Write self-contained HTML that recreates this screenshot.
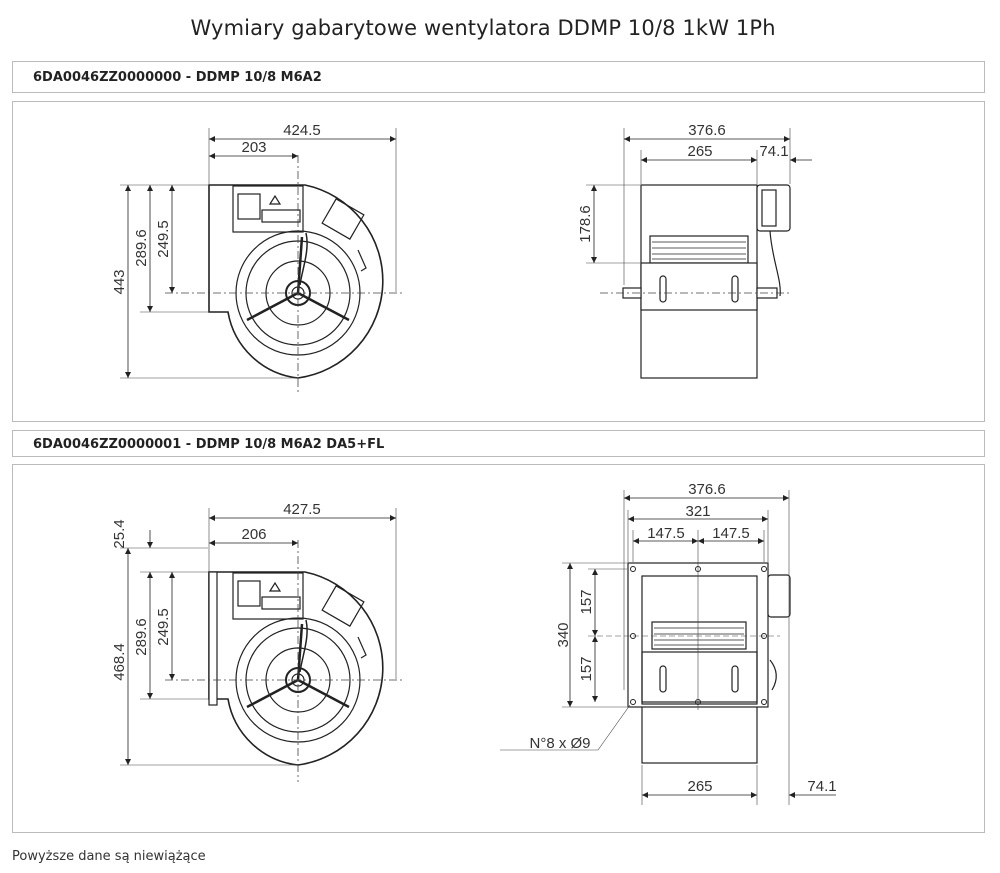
<!DOCTYPE html>
<html><head><meta charset="utf-8"><style>
body{margin:0;background:#fff;width:1000px;height:873px;overflow:hidden;font-family:"Liberation Sans",sans-serif}
svg{position:absolute;left:0;top:0}
</style></head><body>
<svg width="1000" height="873" viewBox="0 0 1000 873" font-family="Liberation Sans, sans-serif">
<defs>
<marker id="a" viewBox="0 0 10 10" refX="10" refY="5" markerWidth="10" markerHeight="6" orient="auto-start-reverse" markerUnits="userSpaceOnUse"><path d="M0,0L10,5L0,10z" fill="#222"/></marker>
</defs>
<text x="483" y="35" font-size="21" text-anchor="middle" fill="#222" font-family="DejaVu Sans, sans-serif" textLength="585">Wymiary gabarytowe wentylatora DDMP 10/8 1kW 1Ph</text>
<g fill="none" stroke="#bbb"><rect x="12.5" y="61.5" width="972" height="31"/><rect x="12.5" y="101.5" width="972" height="320"/><rect x="12.5" y="430.5" width="972" height="26"/><rect x="12.5" y="464.5" width="972" height="368"/></g>
<text x="33" y="81" font-size="13" font-weight="bold" fill="#222" font-family="DejaVu Sans, sans-serif">6DA0046ZZ0000000 -  DDMP 10/8 M6A2</text>
<text x="33" y="448" font-size="13" font-weight="bold" fill="#222" font-family="DejaVu Sans, sans-serif">6DA0046ZZ0000001 - DDMP 10/8 M6A2 DA5+FL</text>
<text x="12" y="860" font-size="13" fill="#333" font-family="DejaVu Sans, sans-serif">Powyższe dane są niewiążące</text>

<g id="lv" stroke="#222" fill="none" stroke-width="1.2">
<path d="M209,185 H305 A98,98 0 0 1 298,378 A80,80 0 0 1 228,312 H209 Z" fill="#fff" stroke-width="1.6"/>
<rect x="233" y="186" width="70" height="46" fill="#fff"/>
<rect x="238" y="194" width="22" height="25"/><rect x="262" y="210" width="38" height="12"/>
<path d="M270,204 l5,-8 l5,8z"/>
<circle cx="298" cy="293" r="62"/><circle cx="298" cy="293" r="52"/><circle cx="298" cy="293" r="32"/>
<circle cx="298" cy="293" r="12" stroke-width="2"/><circle cx="298" cy="293" r="6"/>
<path d="M298,293 L247,320 M298,293 L349,320 M298,293 L302,237" stroke-width="2.5"/>
<path d="M306,233 C310,250 302,270 300,285" stroke-width="1.5"/>
<rect x="327" y="205" width="32" height="28" transform="rotate(30 343 219)"/>
<path d="M358,250 l8,18 l-5,3" />
</g>
<g stroke="#444" stroke-width="0.8" stroke-dasharray="8,3,2,3" fill="none"><line x1="165" y1="293" x2="402" y2="293"/><line x1="298" y1="155" x2="298" y2="395"/></g>
<g stroke="#444" stroke-width="0.6"><line x1="209" y1="128" x2="209" y2="184"/><line x1="396" y1="128" x2="396" y2="292"/><line x1="120" y1="185" x2="208" y2="185"/><line x1="140" y1="312" x2="208" y2="312"/><line x1="120" y1="378" x2="298" y2="378"/></g>
<g stroke="#222" stroke-width="0.8" marker-start="url(#a)" marker-end="url(#a)"><line x1="209" y1="139" x2="396" y2="139"/><line x1="209" y1="156" x2="298" y2="156"/><line x1="128" y1="185" x2="128" y2="378"/><line x1="150" y1="185" x2="150" y2="312"/><line x1="172" y1="185" x2="172" y2="293"/></g>
<g font-size="15" fill="#333" text-anchor="middle"><text x="302" y="135">424.5</text><text x="254" y="152">203</text>
<text transform="translate(124,282) rotate(-90)">443</text><text transform="translate(146,248) rotate(-90)">289.6</text><text transform="translate(168,239) rotate(-90)">249.5</text></g>

<g stroke="#222" fill="#fff" stroke-width="1.2">
<rect x="641" y="185" width="116" height="193"/>
<rect x="650" y="236" width="98" height="27" fill="none"/>
<path d="M652,242H746M652,248H746M652,254H746M652,259H746" fill="none" stroke-width="0.8"/>
<rect x="641" y="263" width="116" height="47"/>
<rect x="660" y="276" width="6" height="26" rx="3"/><rect x="732" y="276" width="6" height="26" rx="3"/>
<rect x="623" y="288" width="18" height="10"/><rect x="757" y="288" width="20" height="10"/>
<rect x="757" y="185" width="33" height="46" rx="3"/><rect x="762" y="190" width="14" height="36"/>
<path d="M770,231 C772,260 782,280 780,296" fill="none"/>
</g>
<line x1="600" y1="293" x2="790" y2="293" stroke="#444" stroke-width="0.8" stroke-dasharray="8,3,2,3"/>
<g stroke="#444" stroke-width="0.6"><line x1="624" y1="128" x2="624" y2="285"/><line x1="790" y1="128" x2="790" y2="184"/><line x1="641" y1="150" x2="641" y2="184"/><line x1="757" y1="150" x2="757" y2="184"/><line x1="586" y1="185" x2="640" y2="185"/><line x1="586" y1="263" x2="640" y2="263"/></g>
<g stroke="#222" stroke-width="0.8" marker-start="url(#a)" marker-end="url(#a)"><line x1="624" y1="139" x2="790" y2="139"/><line x1="641" y1="160" x2="757" y2="160"/><line x1="594" y1="185" x2="594" y2="263"/></g>
<g stroke="#222" stroke-width="0.8"><line x1="812" y1="160" x2="790" y2="160" marker-end="url(#a)"/></g>
<g font-size="15" fill="#333" text-anchor="middle"><text x="707" y="135">376.6</text><text x="700" y="156">265</text><text x="774" y="156">74.1</text><text transform="translate(590,224) rotate(-90)">178.6</text></g>

<use href="#lv" transform="translate(0,387)"/>
<rect x="209" y="572" width="8" height="133" fill="#fff" stroke="#222" stroke-width="1.2"/>
<g stroke="#444" stroke-width="0.8" stroke-dasharray="8,3,2,3" fill="none"><line x1="165" y1="680" x2="402" y2="680"/><line x1="298" y1="540" x2="298" y2="782"/></g>
<g stroke="#444" stroke-width="0.6"><line x1="209" y1="508" x2="209" y2="571"/><line x1="396" y1="508" x2="396" y2="679"/><line x1="120" y1="548" x2="208" y2="548"/><line x1="140" y1="572" x2="208" y2="572"/><line x1="140" y1="699" x2="208" y2="699"/><line x1="120" y1="765" x2="298" y2="765"/></g>
<g stroke="#222" stroke-width="0.8" marker-start="url(#a)" marker-end="url(#a)"><line x1="209" y1="518" x2="396" y2="518"/><line x1="209" y1="543" x2="298" y2="543"/><line x1="128" y1="548" x2="128" y2="765"/><line x1="150" y1="572" x2="150" y2="699"/><line x1="172" y1="572" x2="172" y2="680"/></g>
<g stroke="#222" stroke-width="0.8"><line x1="150" y1="530" x2="150" y2="548" marker-end="url(#a)"/></g>
<g font-size="15" fill="#333" text-anchor="middle"><text x="302" y="514">427.5</text><text x="254" y="539">206</text>
<text transform="translate(124,534) rotate(-90)">25.4</text><text transform="translate(124,662) rotate(-90)">468.4</text><text transform="translate(146,637) rotate(-90)">289.6</text><text transform="translate(168,627) rotate(-90)">249.5</text></g>

<g stroke="#222" fill="#fff" stroke-width="1.2">
<rect x="642" y="700" width="115" height="63"/>
<rect x="628" y="563" width="140" height="144"/>
<rect x="642" y="576" width="115" height="128" fill="none"/>
<rect x="652" y="622" width="94" height="27" fill="none"/>
<path d="M654,628H744M654,634H744M654,640H744M654,645H744" fill="none" stroke-width="0.8"/>
<rect x="642" y="652" width="115" height="50" fill="none"/>
<rect x="660" y="666" width="6" height="26" rx="3"/><rect x="732" y="666" width="6" height="26" rx="3"/>
<rect x="768" y="575" width="22" height="42" rx="3"/>
<path d="M770,660 C778,670 778,680 772,690" fill="none"/>
</g>
<g fill="none" stroke="#222" stroke-width="1"><circle cx="633" cy="569" r="2.5"/><circle cx="698" cy="569" r="2.5"/><circle cx="764" cy="569" r="2.5"/><circle cx="633" cy="636" r="2.5"/><circle cx="764" cy="636" r="2.5"/><circle cx="633" cy="702" r="2.5"/><circle cx="698" cy="702" r="2.5"/><circle cx="764" cy="702" r="2.5"/></g>
<g stroke="#444" stroke-width="0.6"><line x1="624" y1="490" x2="624" y2="690"/><line x1="789" y1="490" x2="789" y2="805"/><line x1="628" y1="510" x2="628" y2="562"/><line x1="768" y1="510" x2="768" y2="562"/><line x1="633" y1="530" x2="633" y2="562"/><line x1="698" y1="530" x2="698" y2="710"/><line x1="764" y1="530" x2="764" y2="562"/><line x1="562" y1="563" x2="627" y2="563"/><line x1="588" y1="569" x2="627" y2="569"/><line x1="588" y1="636" x2="780" y2="636" stroke-dasharray="6,3"/><line x1="562" y1="707" x2="627" y2="707"/><line x1="642" y1="765" x2="642" y2="805"/><line x1="757" y1="765" x2="757" y2="805"/><line x1="500" y1="750" x2="598" y2="750"/><line x1="598" y1="750" x2="630" y2="705"/></g>
<g stroke="#222" stroke-width="0.8" marker-start="url(#a)" marker-end="url(#a)"><line x1="624" y1="498" x2="789" y2="498"/><line x1="628" y1="519" x2="768" y2="519"/><line x1="633" y1="541" x2="698" y2="541"/><line x1="698" y1="541" x2="764" y2="541"/><line x1="570" y1="563" x2="570" y2="707"/><line x1="595" y1="569" x2="595" y2="636"/><line x1="595" y1="636" x2="595" y2="702"/><line x1="642" y1="795" x2="757" y2="795"/></g>
<g stroke="#222" stroke-width="0.8"><line x1="836" y1="795" x2="789" y2="795" marker-end="url(#a)"/></g>
<g font-size="15" fill="#333" text-anchor="middle"><text x="707" y="494">376.6</text><text x="698" y="516">321</text><text x="666" y="538">147.5</text><text x="731" y="538">147.5</text><text x="700" y="791">265</text><text x="822" y="791">74.1</text>
<text transform="translate(568,635) rotate(-90)">340</text><text transform="translate(591,602) rotate(-90)">157</text><text transform="translate(591,669) rotate(-90)">157</text>
<text x="560" y="748">N°8 x Ø9</text></g>
</svg>
</body></html>
